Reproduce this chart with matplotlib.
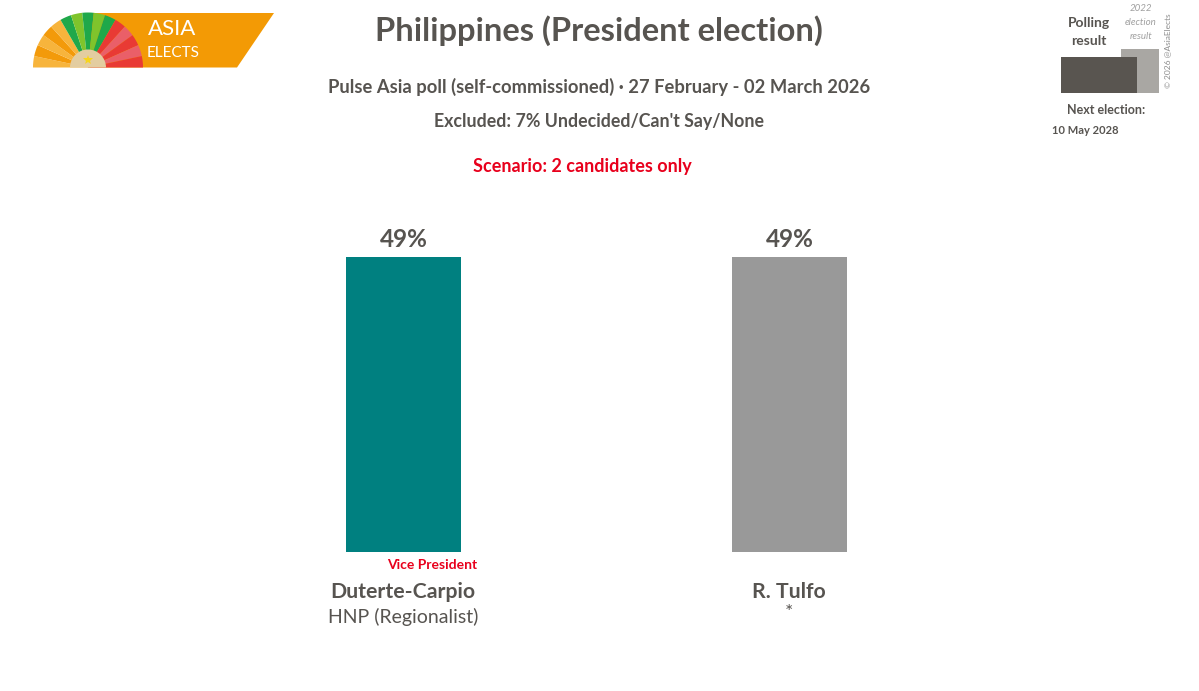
#!/usr/bin/env python3
"""Philippines president poll bars, Asia Elects layout."""
import matplotlib
matplotlib.use("Agg")
import matplotlib.pyplot as plt
from matplotlib.patches import Polygon, Rectangle, Wedge

W, H = 1199, 691
C_TEXT = "#575450"
C_RED = "#e8001c"

candidates = ["Duterte-Carpio", "R. Tulfo"]
parties = ["HNP (Regionalist)", "*"]
values = [49, 49]
bar_colors = ["#008080", "#999999"]

plt.rcParams["font.family"] = ["Lato", "DejaVu Sans"]

fig = plt.figure(figsize=(W / 100, H / 100), dpi=100)

# bars: 386 px between categories, baseline at y=552, 49% is 295 px tall
ax = fig.add_axes([0, (H - 552) / H, 1, 295 / H])
ax.bar(range(len(values)), values, width=115 / 386, color=bar_colors)
ax.set_xlim(-403.5 / 386, (W - 403.5) / 386)
ax.set_ylim(0, 49)
ax.axis("off")
for i, v in enumerate(values):
    ax.annotate(f"{v}%", (i, v), xytext=(0, 4), textcoords="offset points",
                ha="center", va="bottom", fontsize=17.5, color=C_TEXT, weight="bold")

# overlay in pixel coordinates for logo, header and key
ov = fig.add_axes([0, 0, 1, 1], facecolor="none")
ov.set_xlim(0, W)
ov.set_ylim(0, H)
ov.axis("off")


def txt(x, y, s, size, color=C_TEXT, **kw):
    ov.text(x, H - y, s, fontsize=size, color=color, ha=kw.pop("ha", "center"),
            va="center", **kw)


# logo
cx, cy, r = 88, H - 67.5, 55
ov.add_patch(Polygon([(cx, H - 13), (274, H - 13), (237, cy), (cx, cy)], color="#f39a05", lw=0))
fan = ["#f7b43c", "#f39a0a", "#f7b43c", "#f39a0a", "#f7b43c",
       "#1fa84a", "#7fc42c", "#1fa84a", "#7fc42c", "#1fa84a",
       "#e93a34", "#ea5f68", "#e93a34", "#ea5f68", "#e93a34"]
for i, c in enumerate(fan):
    ov.add_patch(Wedge((cx, cy), r, 180 - 12 * (i + 1), 180 - 12 * i, color=c, lw=0))
ov.add_patch(Wedge((cx, cy), 18, 0, 180, color="#e3cda0", lw=0))
ov.plot([cx], [cy + 8], marker="*", ms=7, color="#f7d51d", mew=0)
txt(172, 29, "ASIA", 16, color="white")
txt(173, 53, "ELECTS", 11, color="white")

# header
txt(599, 31, "Philippines (President election)", 23.5, weight="bold")
txt(599, 87, "Pulse Asia poll (self-commissioned) · 27 February - 02 March 2026", 13.2, weight="bold")
txt(599, 121, "Excluded: 7% Undecided/Can't Say/None", 12.8, weight="bold")
txt(582, 166, "Scenario: 2 candidates only", 13, color=C_RED, weight="bold")

# key, top right
ov.add_patch(Rectangle((1121, H - 93), 38, 44, color="#a9a7a3", lw=0))
ov.add_patch(Rectangle((1061, H - 93), 76, 36, color="#595550", lw=0))
txt(1089, 23, "Polling", 10, weight="bold")
txt(1089, 41, "result", 10, weight="bold")
txt(1141, 8, "2022", 7, color="#a0a0a0", style="italic")
txt(1141, 22, "election", 7, color="#a0a0a0", style="italic")
txt(1141, 36, "result", 7, color="#a0a0a0", style="italic")
txt(1168, 51, "© 2026 @AsiaElects", 6, color="#8c8c8c", rotation=90)
txt(1106, 110, "Next election:", 9, weight="bold")
txt(1085, 130, "10 May 2028", 8, weight="bold")

# candidate labels
txt(477, 565, "Vice President", 10, color=C_RED, ha="right", weight="bold")
for cand, party, x, py in zip(candidates, parties, (403, 789), (617, 612)):
    txt(x, 592, cand, 15.3, weight="bold")
    txt(x, py, party, 14)

fig.savefig("out.png", dpi=100)
